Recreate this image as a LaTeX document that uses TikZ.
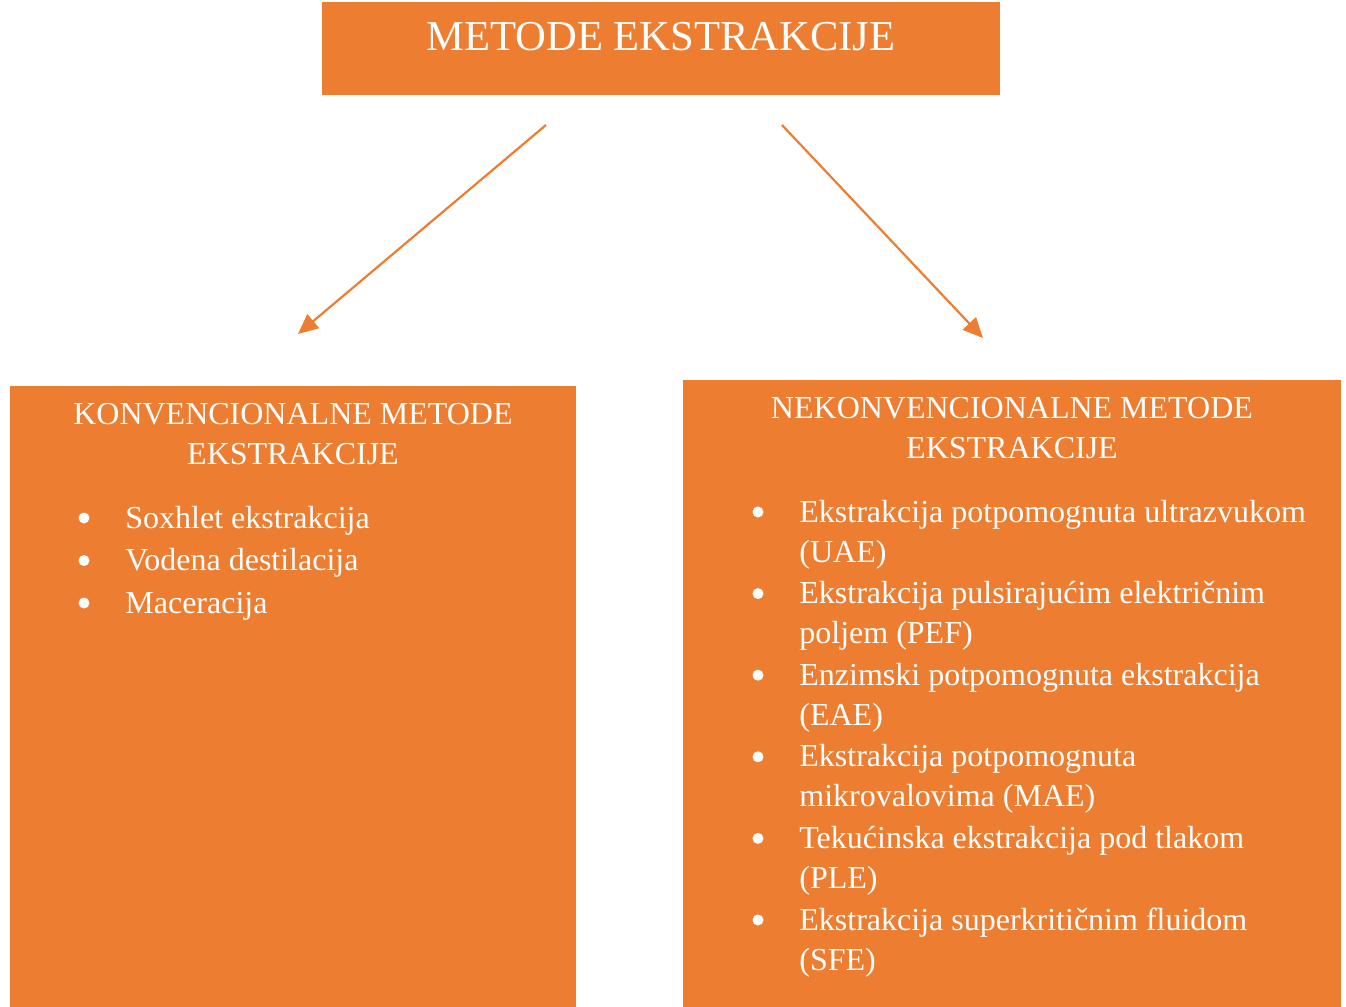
\documentclass[tikz,border=0pt]{standalone}
\usepackage{fontspec}
\setmainfont{Liberation Serif}
\usetikzlibrary{arrows.meta,fit,positioning}
\definecolor{extorange}{HTML}{ED7D31}

\begin{document}
\begin{tikzpicture}[
  x=0.5pt, y=-0.5pt,
  font=\fontsize{16}{20}\selectfont,
  >={Triangle[length=10pt,width=9pt]},
  box/.style={fill=extorange, draw=none, inner sep=0pt},
  head/.style={text=white, align=center, inner sep=0pt},
  item/.style={text=white, align=left, anchor=base west, inner sep=0pt},
  dot/.style={circle, fill=white, inner sep=0pt, minimum size=5.5pt},
  link/.style={->, draw=extorange, fill=extorange, line width=1.1pt}]

\useasboundingbox (0,0) rectangle (1346,1007);

\node[box, fit={(322,2) (1000,95)}] (main) {};
\node[box, fit={(10,386) (576,1007)}] (conv) {};
\node[box, fit={(683,380) (1341,1007)}] (nonconv) {};

\node[head, font=\fontsize{21.3}{25}\selectfont] (maint) at (661,37) {METODE EKSTRAKCIJE};
\node[head] (convt) at (293,434) {KONVENCIONALNE METODE\\EKSTRAKCIJE};
\node[head] (nonconvt) at (1012,428) {NEKONVENCIONALNE METODE\\EKSTRAKCIJE};

\foreach \i/\txt in {0/Soxhlet ekstrakcija, 1/Vodena destilacija, 2/Maceracija} {
  \node[dot] (lb\i) at (84,518+42.5*\i) {};
  \node[item] (li\i) at (125,528+42.5*\i) {\txt};
}

\foreach \i/\txt in {0/{Ekstrakcija potpomognuta ultrazvukom\\(UAE)},
                     1/{Ekstrakcija pulsirajućim električnim\\poljem (PEF)},
                     2/{Enzimski potpomognuta ekstrakcija\\(EAE)},
                     3/{Ekstrakcija potpomognuta\\mikrovalovima (MAE)},
                     4/{Tekućinska ekstrakcija pod tlakom\\(PLE)},
                     5/{Ekstrakcija superkritičnim fluidom\\(SFE)}} {
  \node[dot] (rb\i) at (758,512+81.6*\i) {};
  \node[item] (ri\i) at (799,562+81.6*\i) {\txt};
}

\coordinate (lstart) at (546,125);
\coordinate (lend) at (298,334);
\coordinate (rstart) at (782,125);
\coordinate (rend) at (983,338);
\draw[link] (lstart) -- (lend);
\draw[link] (rstart) -- (rend);

\end{tikzpicture}
\end{document}
